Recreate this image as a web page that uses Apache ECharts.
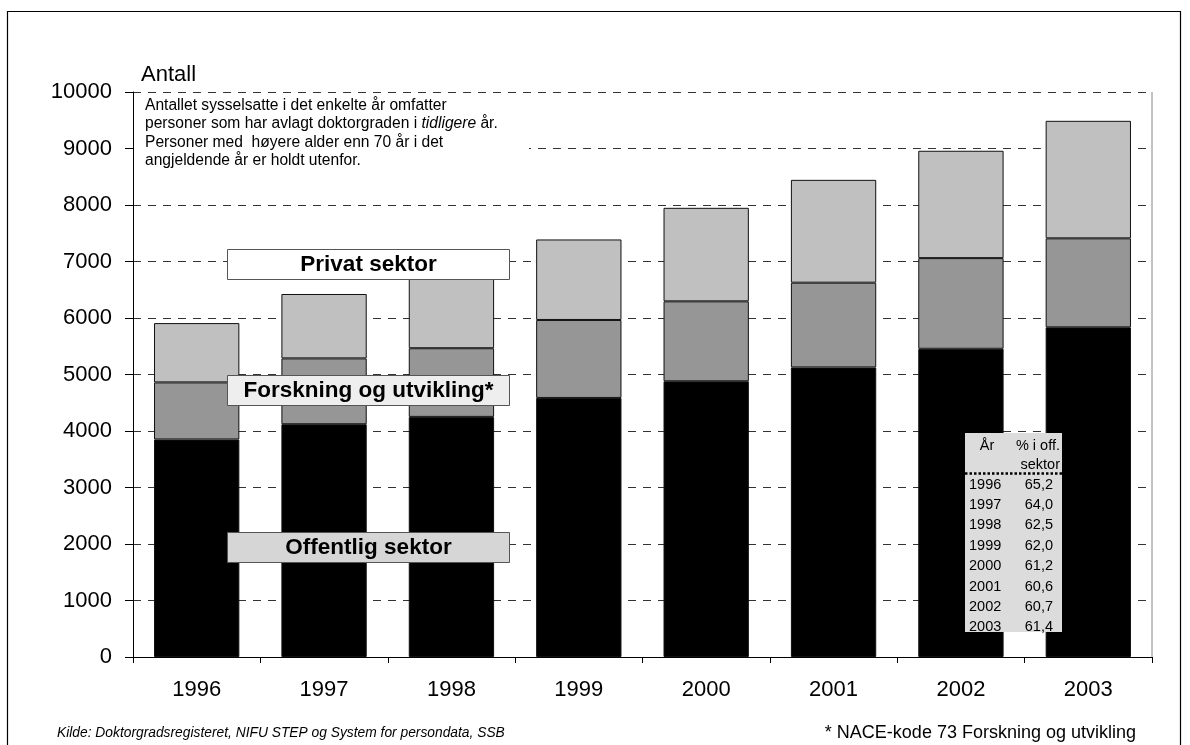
<!DOCTYPE html>
<html>
<head>
<meta charset="utf-8">
<script src="https://cdn.jsdelivr.net/npm/echarts@6/dist/echarts.min.js"></script>
<style>
html,body{margin:0;padding:0;background:#fff;}
#chart{width:1190px;height:745px;}
</style>
</head>
<body>
<div id="chart"></div>
<script>
var years = ['1996','1997','1998','1999','2000','2001','2002','2003'];
var offentlig = [3850, 4120, 4250, 4585, 4880, 5125, 5455, 5835];
var forskning = [1010, 1165, 1215, 1380, 1415, 1500, 1605, 1575];
var privat = [1050, 1140, 1315, 1425, 1655, 1820, 1900, 2080];
var tableYears = ['1996','1997','1998','1999','2000','2001','2002','2003'];
var tablePct = ['65,2','64,0','62,5','62,0','61,2','60,6','60,7','61,4'];

var FONT = 'Liberation Sans, Arial, sans-serif';
var chart = echarts.init(document.getElementById('chart'), null, {renderer:'canvas'});

var graphics = [
  {type:'rect', shape:{x:7.5,y:11.5,width:1173,height:760}, style:{fill:'none',stroke:'#000',lineWidth:1.2}, z:1, silent:true},
  {type:'line', shape:{x1:1152,y1:92,x2:1152,y2:657}, style:{stroke:'#888',lineWidth:1}, z:50},
  {type:'text', x:141, y:75, style:{text:'Antall', font:'22px '+FONT, fill:'#000', textVerticalAlign:'middle'}, z:50},
  {type:'rect', shape:{x:134,y:93,width:395,height:84}, style:{fill:'#fff'}, z:50},
  {type:'text', x:145, y:96, z:51, style:{
    text:'Antallet sysselsatte i det enkelte år omfatter\npersoner som har avlagt doktorgraden i {i|tidligere} år.\nPersoner med  høyere alder enn 70 år i det\nangjeldende år er holdt utenfor.',
    font:'15.6px '+FONT, fill:'#000', lineHeight:18.5,
    rich:{i:{fontStyle:'italic', fontSize:15.6, fontFamily:FONT, lineHeight:18.5}}
  }},
  // label boxes
  {type:'rect', shape:{x:227.5,y:249.5,width:282,height:30}, style:{fill:'#fff',stroke:'#555',lineWidth:1}, z:60},
  {type:'text', x:368.5, y:265, z:61, style:{text:'Privat sektor', font:'bold 22.5px '+FONT, fill:'#000', textAlign:'center', textVerticalAlign:'middle'}},
  {type:'rect', shape:{x:227.5,y:375.5,width:282,height:30}, style:{fill:'#eeeeee',stroke:'#555',lineWidth:1}, z:60},
  {type:'text', x:368.5, y:391, z:61, style:{text:'Forskning og utvikling*', font:'bold 22.5px '+FONT, fill:'#000', textAlign:'center', textVerticalAlign:'middle'}},
  {type:'rect', shape:{x:227.5,y:532.5,width:282,height:30}, style:{fill:'#d6d6d6',stroke:'#555',lineWidth:1}, z:60},
  {type:'text', x:368.5, y:548, z:61, style:{text:'Offentlig sektor', font:'bold 22.5px '+FONT, fill:'#000', textAlign:'center', textVerticalAlign:'middle'}},
  // table
  {type:'rect', shape:{x:965,y:433,width:97,height:199}, style:{fill:'#dcdcdc'}, z:60},
  {type:'text', x:987, y:446, z:61, style:{text:'År', font:'14.5px '+FONT, fill:'#000', textAlign:'center', textVerticalAlign:'middle'}},
  {type:'text', x:1060, y:446, z:61, style:{text:'% i off.', font:'14.5px '+FONT, fill:'#000', textAlign:'right', textVerticalAlign:'middle'}},
  {type:'text', x:1060, y:465, z:61, style:{text:'sektor', font:'14.5px '+FONT, fill:'#000', textAlign:'right', textVerticalAlign:'middle'}},
  {type:'line', shape:{x1:965,y1:473.5,x2:1062,y2:473.5}, style:{stroke:'#000',lineWidth:2.5,lineDash:[2.5,2]}, z:61}
];
for (var i = 0; i < tableYears.length; i++) {
  var yy = 484.5 + i * 20.4;
  graphics.push({type:'text', x:969, y:yy, z:61, style:{text:tableYears[i], font:'14.5px '+FONT, fill:'#000', textAlign:'left', textVerticalAlign:'middle'}});
  graphics.push({type:'text', x:1053, y:yy, z:61, style:{text:tablePct[i], font:'14.5px '+FONT, fill:'#000', textAlign:'right', textVerticalAlign:'middle'}});
}
// footer
graphics.push({type:'text', x:57, y:733, z:50, style:{text:'Kilde: Doktorgradsregisteret, NIFU STEP og System for persondata, SSB', font:'italic 13.8px '+FONT, fill:'#000', textVerticalAlign:'middle'}});
graphics.push({type:'text', x:1136, y:733, z:50, style:{text:'* NACE-kode 73 Forskning og utvikling', font:'18px '+FONT, fill:'#000', textAlign:'right', textVerticalAlign:'middle'}});

var barStyle = function(c){ return {color:c, borderColor:'#111', borderWidth:1}; };

chart.setOption({
  animation:false,
  backgroundColor:'#fff',
  grid:{left:133, top:92, width:1019, height:565, containLabel:false},
  xAxis:{
    type:'category', data:years,
    axisLine:{lineStyle:{color:'#000', width:1}},
    axisTick:{show:true, length:6, lineStyle:{color:'#000'}},
    axisLabel:{fontSize:22, color:'#000', margin:22, fontFamily:FONT}
  },
  yAxis:{
    type:'value', min:0, max:10000, interval:1000,
    axisLine:{show:true, lineStyle:{color:'#000', width:1}},
    axisTick:{show:true, length:8, lineStyle:{color:'#000'}},
    axisLabel:{fontSize:22, color:'#000', margin:21, fontFamily:FONT, formatter:function(v){return String(v);}},
    splitLine:{show:true, lineStyle:{color:'#333', width:1, type:[8,7]}}
  },
  series:[
    {name:'Offentlig sektor', type:'bar', stack:'a', data:offentlig, barCategoryGap:'33%', itemStyle:barStyle('#000000')},
    {name:'Forskning og utvikling', type:'bar', stack:'a', data:forskning, itemStyle:barStyle('#969696')},
    {name:'Privat sektor', type:'bar', stack:'a', data:privat, itemStyle:barStyle('#c0c0c0')}
  ],
  graphic:graphics
});
</script>
</body>
</html>
